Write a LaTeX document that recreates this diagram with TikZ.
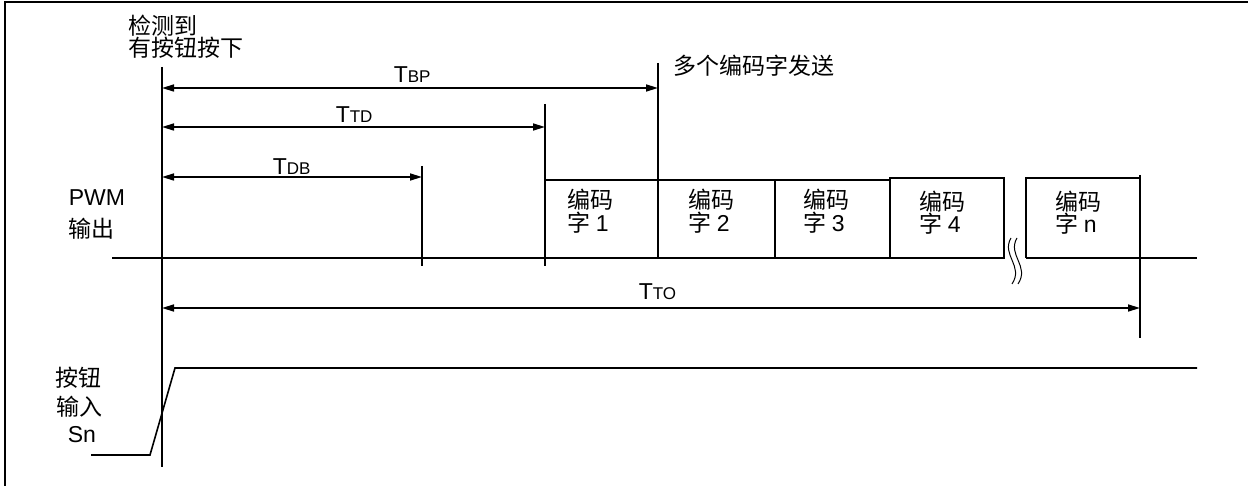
\documentclass[tikz,border=0pt]{standalone}
\usepackage{fontspec}
\setmainfont{Liberation Sans}
\newfontfamily\cjk{Noto Sans CJK SC}
\usetikzlibrary{arrows.meta}
\newcommand\lowcap[1]{{\fontsize{17}{17}\selectfont #1}}
\begin{document}
\begin{tikzpicture}[x=1pt,y=-1pt,line width=1.6pt,
  txt/.style={anchor=base west,inner sep=0pt,font=\fontsize{23}{22}\selectfont},
  ctxt/.style={txt,font=\fontsize{23}{22}\selectfont\cjk},
  dim/.style={{Triangle[length=12pt,width=7pt]}-{Triangle[length=12pt,width=7pt]},line width=1.6pt},
  thick box/.style={line width=2.6pt}]
\useasboundingbox (0,0) rectangle (1248,486);
% frame (top and left edges visible)
\coordinate (fTR) at (1248,2);
\coordinate (fTL) at (5,2);
\coordinate (fBL) at (5,486);
\draw[line width=2pt] (fTR) -- (fTL) -- (fBL);

% main vertical line
\coordinate (m0) at (162,67);
\coordinate (m1) at (162,467);
\draw (m0) -- (m1);

% marker lines
\coordinate (bp0) at (658,63);  \coordinate (bp1) at (658,258);
\coordinate (td0) at (545,104); \coordinate (td1) at (545,266);
\coordinate (db0) at (422,166); \coordinate (db1) at (422,266);
\coordinate (to0) at (1140,175);\coordinate (to1) at (1140,338);
\draw (bp0) -- (bp1);
\draw (td0) -- (td1);
\draw (db0) -- (db1);
\draw (to0) -- (to1);

% dimension arrows
\coordinate (aBPl) at (162,88);  \coordinate (aBPr) at (658,88);
\coordinate (aTDl) at (162,127); \coordinate (aTDr) at (545,127);
\coordinate (aDBl) at (162,177); \coordinate (aDBr) at (422,177);
\coordinate (aTOl) at (162,308); \coordinate (aTOr) at (1140,308);
\draw[dim] (aBPl) -- (aBPr);
\draw[dim] (aTDl) -- (aTDr);
\draw[dim] (aDBl) -- (aDBr);
\draw[dim] (aTOl) -- (aTOr);

\node[txt] (lBP) at (393,83) {T\lowcap{BP}};
\node[txt] (lTD) at (335,123) {T\lowcap{TD}};
\node[txt] (lDB) at (272,175) {T\lowcap{DB}};
\node[txt] (lTO) at (638,300) {T\lowcap{TO}};

% baseline
\coordinate (b0) at (112,258);
\coordinate (b1) at (1005,258);
\coordinate (b2) at (1026,258);
\coordinate (b3) at (1197,258);
\draw (b0) -- (b1);
\draw (b2) -- (b3);

% code word boxes
\draw (545,258) -- (545,180) -- (658,180);
\draw (658,180) -- (775,180);
\draw[thick box] (775,180) -- (775,258);
\draw (775,180) -- (890,180);
\draw[thick box] (890,258) rectangle (1004,178);
\draw (1026,258) -- (1026,178) -- (1140,178);

\node[ctxt] (w1a) at (567,209) {编码};
\node[ctxt] (w1b) at (567,232) {字 {\rmfamily 1}};
\node[ctxt] (w2a) at (688,209) {编码};
\node[ctxt] (w2b) at (688,232) {字 {\rmfamily 2}};
\node[ctxt] (w3a) at (803,209) {编码};
\node[ctxt] (w3b) at (803,232) {字 {\rmfamily 3}};
\node[ctxt] (w4a) at (919,211) {编码};
\node[ctxt] (w4b) at (919,233) {字 {\rmfamily 4}};
\node[ctxt] (wna) at (1055,211) {编码};
\node[ctxt] (wnb) at (1055,233) {字 {\rmfamily n}};

% break mark
\draw[line width=1pt] (1011,238) .. controls (1001,255) and (1024,266) .. (1012,284);
\draw[line width=1pt] (1017,238) .. controls (1007,255) and (1030,266) .. (1018,284);

% left labels
\node[ctxt] (det1) at (128,35) {检测到};
\node[ctxt] (det2) at (128,57) {有按钮按下};
\node[ctxt] (multi) at (673,75) {多个编码字发送};
\node[txt] (pwm) at (68,206) {PWM};
\node[ctxt] (out) at (68,238) {输出};
\node[ctxt] (btn1) at (55,386) {按钮};
\node[ctxt] (btn2) at (56,415) {输入};
\node[txt] (sn) at (67,442) {Sn};

% button input signal
\coordinate (s0) at (91,455);
\coordinate (s1) at (150,455);
\coordinate (s2) at (175,368);
\coordinate (s3) at (1197,368);
\draw (s0) -- (s1) -- (s2) -- (s3);
\end{tikzpicture}
\end{document}
